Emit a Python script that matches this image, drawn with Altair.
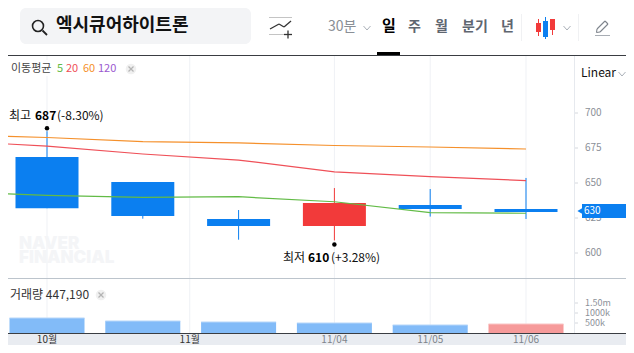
import altair as alt
import pandas as pd

FONT = "Noto Sans CJK KR"

# ---- data ----
candle_idx = [0, 1, 2, 3, 4, 5]
opens  = [668.6, 650.7, 624.3, 619.3, 634.3, 631.4]
closes = [632.0, 626.4, 619.3, 635.7, 631.4, 629.3]
highs  = [687.0, 650.7, 630.7, 646.4, 645.7, 653.6]
lows   = [632.0, 624.5, 609.5, 609.0, 626.0, 624.3]
volumes = [750000, 600000, 550000, 500000, 400000, 447190]
volume_dirs = ["dn", "dn", "dn", "dn", "dn", "up"]
ma_idx = [-1, 0, 1, 2, 3, 4, 5]
ma5   = [643.9, 641.2, 639.8, 640.2, 636.6, 628.8, 628.4]
ma20  = [680.0, 676.4, 670.7, 666.4, 657.9, 654.5, 651.7]
ma60  = [684.6, 682.5, 679.6, 678.6, 676.8, 675.7, 674.3]
price_ticks = [700, 675, 650, 625, 600]
volume_ticks = [500000, 1000000, 1500000]
volume_labels = ["500k", "1000k", "1.50m"]
date_pos = [0, 1.49, 3, 4, 5]
date_labels = ["10월", "11월", "11/04", "11/05", "11/06"]
last_price = 630

OFF = 8  # page margin
xs = alt.Scale(domain=[0, 5], range=[47 - OFF, 526 - OFF], nice=False, zero=False, padding=0)
ps = alt.Scale(domain=[600, 700], range=[253 - OFF, 113 - OFF], nice=False, zero=False)
vs = alt.Scale(domain=[0, 1500000], range=[333 - OFF, 303 - OFF], nice=False, zero=False)
X = alt.X("i:Q", scale=xs, axis=None)
P = alt.Y("p:Q", scale=ps, axis=None)

candles = pd.DataFrame({
    "i": candle_idx,
    "o": opens,
    "c": closes,
    "h": highs,
    "l": lows,
    "v": volumes,
    "vd": volume_dirs,
    "d": ["dn" if c < o else "up" for o, c in zip(opens, closes)],
})
CAND = alt.Color("d:N", scale=alt.Scale(domain=["dn", "up"], range=["#0b7ff0", "#f23a3a"]), legend=None)
VOLC = alt.Color("vd:N", scale=alt.Scale(domain=["dn", "up"], range=["#82bbf8", "#f69a9a"]), legend=None)
CAPC = alt.Color("vd:N", scale=alt.Scale(domain=["dn", "up"], range=["#b8d7f9", "#f9c6c6"]), legend=None)

one = alt.Data(values=[{}])


def vx(v):
    return alt.value(v - OFF)


def seg(x1, y1, x2, y2, color, w=1.0):
    return alt.Chart(one).mark_rule(color=color, strokeWidth=w).encode(
        x=vx(x1), y=vx(y1), x2=vx(x2), y2=vx(y2))


def box(x1, y1, x2, y2, color, r=0):
    return alt.Chart(one).mark_rect(color=color, cornerRadius=r).encode(
        x=vx(x1), y=vx(y1), x2=vx(x2), y2=vx(y2))


def label(s, x, y, size=12, color="#333333", weight="normal", align="left", font=FONT):
    return alt.Chart(one).mark_text(
        text=s, fontSize=size, color=color, fontWeight=weight, align=align,
        baseline="middle", font=font).encode(x=vx(x), y=vx(y))


def disc(x, y, r, color):
    return alt.Chart(one).mark_circle(color=color, opacity=1, size=3.1416 * r * r).encode(x=vx(x), y=vx(y))


def chev(x, y, color="#aab0b8"):
    return [seg(x - 3.5, y - 2, x, y + 2, color), seg(x, y + 2, x + 3.5, y - 2, color)]


def closer(x, y):
    return [disc(x, y, 6, "#f0f0f0"), seg(x - 2.5, y - 2.5, x + 2.5, y + 2.5, "#b4b4b4", 1.2),
            seg(x - 2.5, y + 2.5, x + 2.5, y - 2.5, "#b4b4b4", 1.2)]


layers = []

# bottom band
layers.append(box(0, 334, 634, 353, "#e9ecf1"))

# vertical grid
grid = pd.DataFrame({"i": date_pos, "t": date_labels})
layers.append(alt.Chart(grid).mark_rule(color="#eff1f5", strokeWidth=1).encode(
    x=X, y=vx(56), y2=vx(333)))
layers.append(box(10, 60, 125, 76, "#ffffff"))

# watermark
layers.append(label("NAVER", 19, 244, 17, "#f4f5f7", 900, font="Inter"))
layers.append(label("FINANCIAL", 19, 258, 17, "#f4f5f7", 900, font="Inter"))

# candles
layers.append(alt.Chart(candles).mark_rule(strokeWidth=1).encode(
    x=X, y=alt.Y("l:Q", scale=ps, axis=None), y2="h:Q", color=CAND))
layers.append(alt.Chart(candles).mark_bar(size=63, orient="vertical").encode(
    x=X, y=alt.Y("o:Q", scale=ps, axis=None), y2="c:Q", color=CAND))

# moving averages
for vals, col in [(ma60, "#f5902b"), (ma20, "#ef5058"), (ma5, "#62bb46")]:
    d = pd.DataFrame({"i": ma_idx, "p": vals})
    layers.append(alt.Chart(d).mark_line(color=col, strokeWidth=1.2, clip=False).encode(x=X, y=P))

# high / low markers
markers = pd.DataFrame({"i": [0], "p": [highs[0]]})
layers.append(alt.Chart(markers).mark_circle(color="#000000", opacity=1, size=20, yOffset=-3).encode(x=X, y=P))
markers2 = pd.DataFrame({"i": [3], "p": [lows[3]]})
layers.append(alt.Chart(markers2).mark_circle(color="#000000", opacity=1, size=20, yOffset=4).encode(x=X, y=P))
layers += [
    label("최고", 9, 116, 12, "#111111"),
    label("687", 35, 116, 12, "#000000", "bold"),
    label("(-8.30%)", 57, 116, 12, "#111111"),
    label("최저", 283, 258, 12, "#111111"),
    label("610", 308, 258, 12, "#000000", "bold"),
    label("(+3.28%)", 331, 258, 12, "#111111"),
]

# price axis
layers.append(seg(574.5, 56, 574.5, 333, "#e6e9ee"))
pt = pd.DataFrame({"p": price_ticks, "t": [str(v) for v in price_ticks]})
layers.append(alt.Chart(pt).mark_rule(color="#d5d8dd").encode(
    y=P, x=vx(575), x2=vx(578)))
layers.append(alt.Chart(pt).mark_text(
    align="left", baseline="middle", font=FONT, fontSize=10, color="#8b9098"
).encode(y=P, x=vx(585), text="t:N"))

# last price tag
tag = pd.DataFrame({"p": [last_price], "t": [str(last_price)]})
layers.append(alt.Chart(tag).mark_rect(color="#0b7ff0", height=14).encode(y=P, x=vx(582), x2=vx(634)))
layers.append(alt.Chart(tag).mark_point(shape="triangle-left", filled=True, color="#0b7ff0", opacity=1, size=70).encode(y=P, x=vx(581)))
layers.append(alt.Chart(tag).mark_text(
    align="left", baseline="middle", font=FONT, fontSize=10, color="#ffffff"
).encode(y=P, x=vx(584), text="t:N"))

# volume
layers.append(seg(0, 278.5, 634, 278.5, "#bcc4cc"))
layers.append(alt.Chart(candles).mark_bar(size=75, orient="vertical").encode(
    x=X, y=alt.Y("v:Q", scale=vs, axis=None), color=VOLC))
layers.append(alt.Chart(candles).mark_tick(size=75, thickness=1, orient="horizontal", opacity=1).encode(
    x=X, y=alt.Y("v:Q", scale=vs, axis=None), color=CAPC))
vt = pd.DataFrame({"v": volume_ticks, "t": volume_labels})
V = alt.Y("v:Q", scale=vs, axis=None)
layers.append(alt.Chart(vt).mark_rule(color="#d5d8dd").encode(y=V, x=vx(575), x2=vx(578)))
layers.append(alt.Chart(vt).mark_text(
    align="left", baseline="middle", font=FONT, fontSize=9, color="#8b9098"
).encode(y=V, x=vx(585), text="t:N"))
layers.append(seg(0, 333.5, 634, 333.5, "#3a3d42"))

# date labels
gd = grid.copy()
gd["bold"] = [True, True, False, False, False]
layers.append(alt.Chart(gd[gd.bold]).mark_text(
    font=FONT, fontSize=10, color="#333333", baseline="middle"
).encode(x=X, y=vx(339.5), text="t:N"))
layers.append(alt.Chart(gd[~gd.bold]).mark_text(
    font=FONT, fontSize=10, color="#7e848c", baseline="middle"
).encode(x=X, y=vx(339.5), text="t:N"))

# legends
layers += [
    label("이동평균", 11, 69, 11, "#444444"),
    label("5", 57, 69, 11, "#62bb46"),
    label("20", 66, 69, 11, "#ef5058"),
    label("60", 83, 69, 11, "#f5902b"),
    label("120", 98, 69, 11, "#9b59d0"),
    label("거래량 447,190", 10, 295, 12, "#333333"),
]
layers += closer(131, 69)
layers += closer(101, 295)
layers += [label("Linear", 581, 73, 12, "#111111")]
layers += chev(622, 74)

# toolbar
layers += [
    seg(0, 55.5, 634, 55.5, "#3a3d42"),
    box(20, 8, 251, 44, "#f3f4f6", 6),
    alt.Chart(one).mark_point(shape="circle", filled=False, color="#222222", strokeWidth=1.6, size=120, opacity=1).encode(x=vx(38), y=vx(26)),
    seg(42.5, 30.5, 47, 35, "#222222", 1.8),
    label("엑시큐어하이트론", 56, 26, 18, "#111111", "bold"),
    seg(269, 17.5, 292, 17.5, "#c4c4c4"),
    seg(269, 34.5, 285, 34.5, "#c4c4c4"),
    seg(270, 29, 279, 24, "#333333", 1.3),
    seg(279, 24, 284, 27, "#333333", 1.3),
    seg(284, 27, 291, 21, "#333333", 1.3),
    seg(284, 34.5, 292, 34.5, "#333333", 1.3),
    seg(288, 30.5, 288, 38.5, "#333333", 1.3),
    label("30분", 328, 27, 14, "#8a8f96"),
    label("일", 382, 26, 15, "#000000", "bold"),
    box(377, 52, 400, 55, "#000000"),
    label("주", 408, 27, 14, "#5f6670", "bold"),
    label("월", 435, 27, 14, "#5f6670", "bold"),
    label("분기", 462, 27, 14, "#5f6670", "bold"),
    label("년", 501, 27, 14, "#5f6670", "bold"),
    seg(521.5, 14, 521.5, 41, "#f0f1f3"),
    seg(578.5, 14, 578.5, 41, "#f0f1f3"),
    seg(538.5, 19, 538.5, 36, "#f23a3a"),
    box(536, 23, 541, 32, "#f23a3a"),
    seg(545.5, 17, 545.5, 39, "#0b7ff0"),
    box(543, 21, 548, 37, "#0b7ff0"),
    seg(552.5, 19, 552.5, 35, "#f23a3a"),
    box(550, 19, 555, 30, "#f23a3a"),
    seg(595, 35.5, 610, 35.5, "#a8adb4"),
    seg(597, 29, 605, 21, "#7e848c", 1.1),
    seg(600, 32, 608, 24, "#7e848c", 1.1),
    seg(605, 21, 608, 24, "#7e848c", 1.1),
    seg(597, 29, 596.5, 32.5, "#7e848c", 1.1),
    seg(596.5, 32.5, 600, 32, "#7e848c", 1.1),
]
layers += chev(367, 28)
layers += chev(567, 28)

chart = alt.layer(*layers).resolve_scale(
    y="independent", color="independent"
).properties(
    width=618, height=337, padding=0, autosize=alt.AutoSizeParams(type="none"), background="#ffffff"
).configure_view(stroke=None)

chart.save("out.html", embed_options={"renderer": "svg", "actions": False})
